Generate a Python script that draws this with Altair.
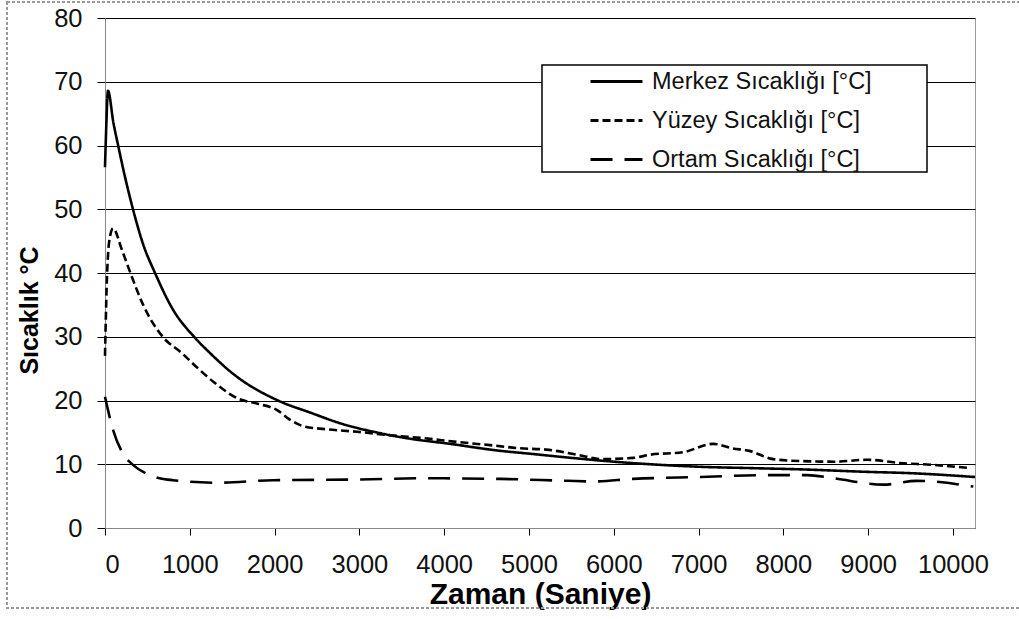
import altair as alt
import pandas as pd

# Series names (legend labels)
series_names = ["Merkez Sıcaklığı [°C]", "Yüzey Sıcaklığı [°C]", "Ortam Sıcaklığı [°C]"]

# Merkez (centre) temperature
merkez_t = [0, 15, 35, 100, 155, 220, 330, 450, 590, 800, 1050, 1250, 1500, 2040, 2400,
            2830, 3200, 3600, 4070, 4600, 5050, 5500, 6000, 6430, 7020, 7600, 8200, 9000,
            9500, 10260]
merkez_v = [56.6, 63.0, 68.6, 63.5, 60.0, 56.0, 50.0, 44.5, 40.0, 34.3, 30.0, 27.3, 24.3,
            20.0, 18.2, 16.2, 15.0, 14.0, 13.2, 12.2, 11.6, 11.0, 10.4, 10.0, 9.6, 9.4, 9.2,
            8.8, 8.6, 8.0]

# Yüzey (surface) temperature
yuzey_t = [0, 20, 50, 95, 200, 300, 450, 680, 900, 1100, 1300, 1570, 1800, 2030, 2180,
           2330, 2600, 2970, 3400, 3750, 4150, 4540, 4900, 5200, 5640, 5840, 6230, 6430,
           6820, 7170, 7400, 7600, 7880, 8200, 8600, 8990, 9370, 9760, 10200]
yuzey_v = [27.0, 38.0, 45.0, 47.0, 43.6, 40.0, 35.0, 30.0, 27.5, 25.0, 22.7, 20.3, 19.5,
           18.5, 17.0, 16.0, 15.5, 15.1, 14.5, 14.1, 13.5, 13.0, 12.5, 12.3, 11.3, 10.8,
           11.0, 11.5, 11.9, 13.2, 12.5, 12.1, 10.8, 10.5, 10.4, 10.7, 10.2, 9.9, 9.4]

# Ortam (ambient) temperature
ortam_t = [0, 95, 210, 330, 530, 800, 1320, 1980, 2970, 3750, 4660, 5450, 5760, 6230,
           7020, 7800, 8280, 8590, 9180, 9570, 10240]
ortam_v = [20.6, 15.4, 11.7, 9.9, 8.3, 7.5, 7.1, 7.5, 7.6, 7.8, 7.7, 7.4, 7.3, 7.7, 8.0,
           8.3, 8.3, 7.8, 6.8, 7.4, 6.5]

x_ticks = [0, 1000, 2000, 3000, 4000, 5000, 6000, 7000, 8000, 9000, 10000]
y_ticks = [0, 10, 20, 30, 40, 50, 60, 70, 80]

rows = []
for name, ts, vs in zip(series_names, [merkez_t, yuzey_t, ortam_t], [merkez_v, yuzey_v, ortam_v]):
    for t, v in zip(ts, vs):
        rows.append({"t": t, "v": v, "seri": name})
df = pd.DataFrame(rows)

FONT = "Liberation Sans"

lines = alt.Chart(df).mark_line(color="black", strokeWidth=2.6, interpolate="monotone").encode(
    x=alt.X("t:Q",
            scale=alt.Scale(domain=[0, 10260], nice=False, zero=False),
            axis=alt.Axis(values=x_ticks, format="d", title="Zaman (Saniye)", grid=False,
                          tickSize=7, tickColor="black", domainColor="#888888",
                          labelFontSize=25.5, labelPadding=17, labelColor="#111111",
                          labelFont=FONT, titleFont=FONT, titleFontSize=30,
                          titleFontWeight="bold", titleColor="black",
                          titleX=435, titleY=75, titleBaseline="alphabetic")),
    y=alt.Y("v:Q",
            scale=alt.Scale(domain=[0, 80], nice=False),
            axis=alt.Axis(values=y_ticks, title="Sıcaklık °C", grid=True,
                          gridColor="black", gridWidth=1, tickSize=8, tickColor="black",
                          domainColor="#888888", labelFontSize=25.5, labelPadding=15,
                          labelColor="#111111", labelFont=FONT, titleFont=FONT,
                          titleFontSize=25, titleFontWeight="bold", titleColor="black",
                          titleX=-76, titleY=292, titleBaseline="middle", titleAngle=270)),
    strokeDash=alt.StrokeDash("seri:N",
                              scale=alt.Scale(domain=series_names,
                                              range=[[1, 0], [8, 4], [22, 12]]),
                              legend=alt.Legend(title=None, orient="none",
                                                legendX=484, legendY=36,
                                                symbolType="stroke", symbolSize=2704,
                                                symbolStrokeWidth=3,
                                                symbolStrokeColor="black",
                                                labelFont=FONT, labelFontSize=23.5,
                                                labelColor="#111111", labelOffset=8,
                                                labelLimit=0,
                                                rowPadding=0, padding=0)),
)

legend_box = alt.Chart(pd.DataFrame({"a": [0]})).mark_rect(
    fill="white", stroke="black", strokeWidth=1.5
).encode(x=alt.value(437), x2=alt.value(822), y=alt.value(47), y2=alt.value(154))

outer_border = alt.Chart(pd.DataFrame({"a": [0]})).mark_rect(
    fill=None, filled=False, stroke="#999999", strokeWidth=2, strokeDash=[3, 2]
).encode(x=alt.value(-98), x2=alt.value(930), y=alt.value(-16), y2=alt.value(590))

chart = alt.layer(outer_border, lines, legend_box).properties(
    width=870, height=510,
    autosize=alt.AutoSizeParams(type="none"),
    padding={"left": 105, "top": 18, "right": 44, "bottom": 91},
    background="white",
).configure_view(stroke="#999999", strokeWidth=1)

chart.save("out.html", embed_options={"renderer": "svg", "actions": False})
